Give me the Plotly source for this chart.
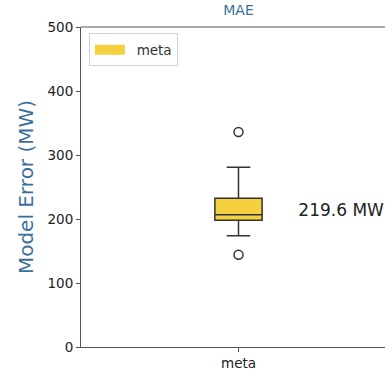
import plotly.graph_objects as go

# Summary statistics of the model error distribution (MW)
categories = ["meta"]
q1 = [197.9]
median = [206.7]
q3 = [232.3]
lower_fence = [173.9]
upper_fence = [280.7]
outliers = [336.0, 144.2]
mean_error = 219.6

box_color = "#f4d03f"
line_color = "#333333"
label_color = "#3b6f9b"
font_family = "DejaVu Sans"

fig = go.Figure()

fig.add_trace(go.Box(
    x=categories,
    q1=q1, median=median, q3=q3,
    lowerfence=lower_fence, upperfence=upper_fence,
    name="meta",
    width=0.15,
    whiskerwidth=0.5,
    fillcolor=box_color,
    line=dict(color=line_color, width=1.5),
    boxpoints=False,
    showlegend=False,
    hoverinfo="skip",
))

fig.add_trace(go.Scatter(
    x=categories * len(outliers),
    y=outliers,
    mode="markers",
    marker=dict(symbol="circle-open", size=9, color=line_color, line=dict(width=1.5)),
    showlegend=False,
    hoverinfo="skip",
))

# Legend entry drawn as a flat colour patch
fig.add_trace(go.Scatter(
    x=[None], y=[None],
    mode="lines",
    name="\u2002meta",
    line=dict(color=box_color, width=10),
    showlegend=True,
    hoverinfo="skip",
))

# Mean error label to the right of the box, on a hidden linear x axis
fig.add_trace(go.Scatter(
    x=[0.19], y=[mean_error - 8],
    xaxis="x2",
    mode="text",
    text=[f"{mean_error} MW"],
    textposition="middle right",
    textfont=dict(family=font_family, size=17, color="#222222"),
    cliponaxis=False,
    showlegend=False,
    hoverinfo="skip",
))

# Top spine
fig.add_shape(type="line", xref="paper", yref="paper",
              x0=0, x1=1, y0=1, y1=1,
              line=dict(color="#555555", width=1))

fig.update_layout(
    width=396, height=372,
    margin=dict(l=81, r=0, t=27, b=25),
    paper_bgcolor="white", plot_bgcolor="white",
    font=dict(family=font_family, size=12, color="#333333"),
    title=dict(text="MAE", x=0.5, xanchor="center", xref="paper",
               y=1 - 5 / 372, yanchor="top",
               font=dict(size=14, color=label_color, family=font_family)),
    showlegend=True,
    legend=dict(x=0.025, y=0.98, xanchor="left", yanchor="top",
                bgcolor="white", bordercolor="#d0d0d0", borderwidth=1,
                font=dict(size=13.5, color="#333333")),
    xaxis2=dict(overlaying="x", range=[-0.5, 0.5], visible=False,
                showgrid=False, zeroline=False),
)

fig.update_xaxes(
    selector=dict(type="category"),
    type="category",
    range=[-0.5, 0.5],
    showline=True, linecolor="#555555", linewidth=1,
    ticks="outside", ticklen=4, tickcolor="#555555",
    showgrid=False, zeroline=False,
    tickfont=dict(size=13.5, color="#222222"),
)
fig.layout.xaxis.update(
    type="category",
    range=[-0.5, 0.5],
    showline=True, linecolor="#555555", linewidth=1,
    ticks="outside", ticklen=4, tickcolor="#555555",
    showgrid=False, zeroline=False,
    tickfont=dict(size=13.5, color="#222222"),
)

fig.update_yaxes(
    range=[0, 500],
    tickvals=[0, 100, 200, 300, 400, 500],
    showline=True, linecolor="#555555", linewidth=1,
    ticks="outside", ticklen=4, tickcolor="#555555",
    showgrid=False, zeroline=False,
    tickfont=dict(size=13.5, color="#222222"),
    title=dict(text="Model Error (MW)", standoff=8,
               font=dict(size=20, color=label_color, family=font_family)),
)

# The figure is a little wider than the page; hide the overflow instead of scrolling
fig.write_html(
    "out.html",
    post_script="document.documentElement.style.overflow='hidden';"
                "document.body.style.overflow='hidden';",
)
